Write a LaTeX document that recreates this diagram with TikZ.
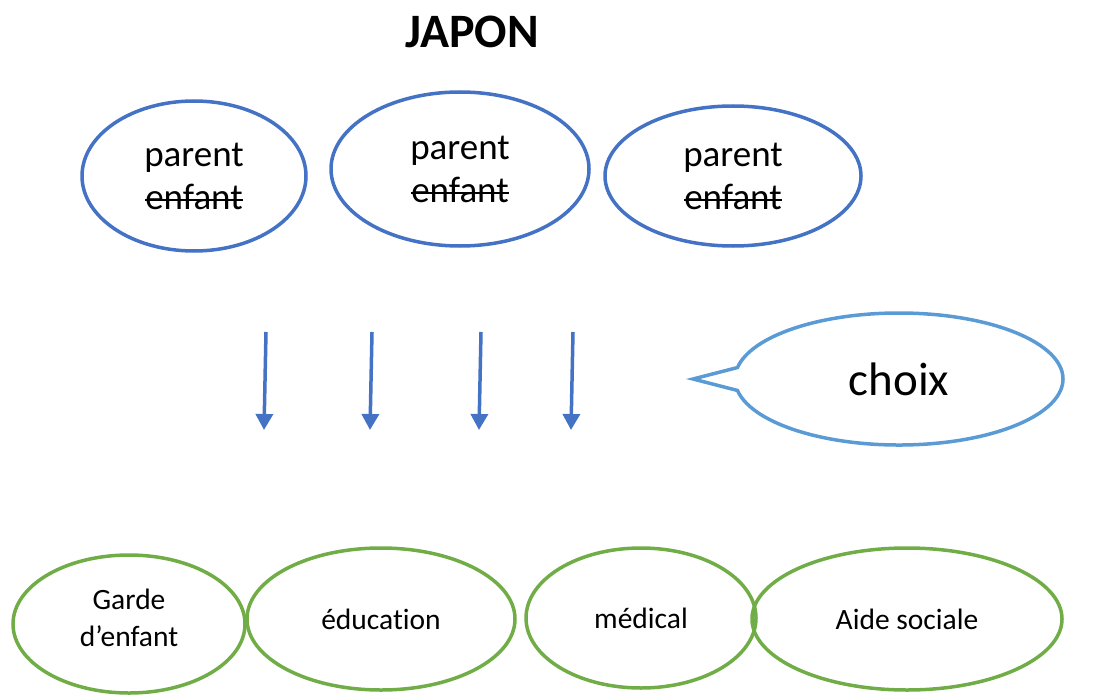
\documentclass[tikz,border=0pt]{standalone}
\usepackage{fontspec}
\setmainfont[Ligatures=NoCommon]{Carlito}
\usetikzlibrary{shapes.geometric, shapes.callouts, arrows.meta}

\definecolor{bleu}{HTML}{4472C4}
\definecolor{bleuclair}{HTML}{5B9BD5}
\definecolor{vert}{HTML}{70AD47}

% texte barré
\newlength\barrelen
\newcommand{\barre}[1]{\settowidth{\barrelen}{#1}\rlap{\rule[0.22em]{\barrelen}{1.8pt}}#1}

\tikzset{
	famille/.style={ellipse, draw=bleu, line width=3.5pt, inner sep=0pt, align=center, font=\fontsize{37}{43}\selectfont},
	service/.style={ellipse, draw=vert, line width=3.5pt, inner sep=0pt, align=center, font=\fontsize{29.5}{37}\selectfont},
	fleche/.style={bleu, line width=3.5pt, -{Triangle[width=17pt, length=16pt]}}
}

\begin{document}
\begin{tikzpicture}[x=1pt, y=-1pt]
	\useasboundingbox (0,0) rectangle (1115,695);

	% Titre
	\node[font=\fontsize{48}{56}\selectfont\bfseries] (titre) at (472,32) {JAPON};

	% Familles
	\node[famille, minimum width=224pt, minimum height=150pt] (fam1) at (194,176) {parent\\\barre{enfant}};
	\node[famille, minimum width=258pt, minimum height=154pt] (fam2) at (460,169) {parent\\\barre{enfant}};
	\node[famille, minimum width=256pt, minimum height=140pt] (fam3) at (733,176) {parent\\\barre{enfant}};

	% Flèches
	\coordinate (d1) at (266,332); \coordinate (f1) at (264,430);
	\coordinate (d2) at (372,332); \coordinate (f2) at (370,430);
	\coordinate (d3) at (481,332); \coordinate (f3) at (479,430);
	\coordinate (d4) at (573,332); \coordinate (f4) at (571,430);
	\draw[fleche] (d1) -- (f1);
	\draw[fleche] (d2) -- (f2);
	\draw[fleche] (d3) -- (f3);
	\draw[fleche] (d4) -- (f4);

	% Bulle
	\node[ellipse callout, draw=bleuclair, line width=3.5pt, inner sep=0pt,
		minimum width=328pt, minimum height=132pt, callout pointer arc=20,
		callout absolute pointer={(693,379)}, font=\fontsize{47}{56}\selectfont] (choix) at (899,379) {choix};

	% Services
	\node[service, minimum width=232pt, minimum height=138pt, text depth=12pt] (garde) at (129,624) {Garde\\d’enfant};
	\node[service, minimum width=268pt, minimum height=142pt] (educ) at (381,619) {éducation};
	\node[service, minimum width=230pt, minimum height=140pt] (medic) at (641,618) {médical};
	\node[service, minimum width=310pt, minimum height=142pt] (aide) at (907,619) {Aide sociale};
\end{tikzpicture}
\end{document}
